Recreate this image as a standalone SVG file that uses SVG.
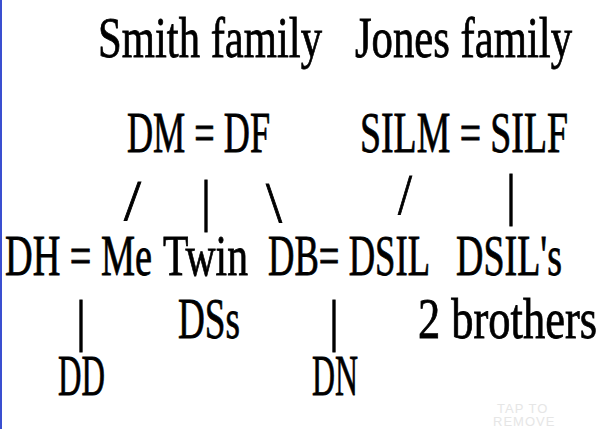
<svg xmlns="http://www.w3.org/2000/svg" width="600" height="429" viewBox="0 0 600 429">
<style>
text{font-family:"Liberation Serif",serif;font-size:58px;fill:#000;stroke:#000;stroke-width:0.8}
.w{font-family:"Liberation Sans",sans-serif;font-size:13px;fill:#e6e6e6;stroke:none;letter-spacing:1px}
</style>
<rect width="600" height="429" fill="#fff"/>
<rect x="0" y="0" width="2" height="429" fill="#3a4fd0"/>
<g id="title-smith"><text x="98" y="57" textLength="224" lengthAdjust="spacingAndGlyphs">Smith family</text></g>
<g id="title-jones"><text x="355" y="57" textLength="217" lengthAdjust="spacingAndGlyphs">Jones family</text></g>
<g id="dm-df"><text x="127" y="152" textLength="143" lengthAdjust="spacingAndGlyphs">DM = DF</text></g>
<g id="silm-silf"><text x="360" y="152" textLength="208" lengthAdjust="spacingAndGlyphs">SILM = SILF</text></g>
<g id="connectors">
<text x="124" y="220" textLength="17" lengthAdjust="spacingAndGlyphs">/</text>
<text x="201" y="220" textLength="10" lengthAdjust="spacingAndGlyphs">|</text>
<text x="266" y="222" textLength="16" lengthAdjust="spacingAndGlyphs">\</text>
<text x="398" y="214" textLength="14" lengthAdjust="spacingAndGlyphs">/</text>
<text x="506" y="214" textLength="10" lengthAdjust="spacingAndGlyphs">|</text>
<text x="76" y="340" textLength="10" lengthAdjust="spacingAndGlyphs">|</text>
<text x="329" y="340" textLength="10" lengthAdjust="spacingAndGlyphs">|</text>
</g>
<g id="dh-me"><text x="5" y="275" textLength="147" lengthAdjust="spacingAndGlyphs">DH = Me</text></g>
<g id="twin"><text x="163" y="275" textLength="85" lengthAdjust="spacingAndGlyphs">Twin</text></g>
<g id="db-dsil"><text x="268" y="275" textLength="162" lengthAdjust="spacingAndGlyphs">DB= DSIL</text></g>
<g id="dsils"><text x="456" y="275" textLength="106" lengthAdjust="spacingAndGlyphs">DSIL's</text></g>
<g id="dss"><text x="178" y="338" textLength="62" lengthAdjust="spacingAndGlyphs">DSs</text></g>
<g id="brothers"><text x="418" y="338" textLength="179" lengthAdjust="spacingAndGlyphs">2 brothers</text></g>
<g id="dd"><text x="58" y="395" textLength="47" lengthAdjust="spacingAndGlyphs">DD</text></g>
<g id="dn"><text x="312" y="395" textLength="46" lengthAdjust="spacingAndGlyphs">DN</text></g>
<text class="w" x="497" y="413">TAP TO</text>
<text class="w" x="493" y="426">REMOVE</text>
</svg>
